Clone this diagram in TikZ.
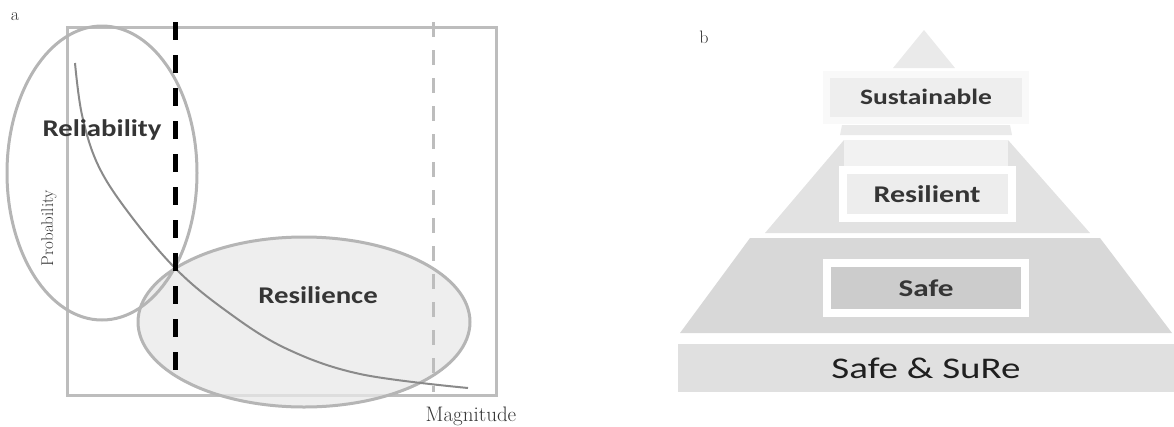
\documentclass[tikz,border=0pt]{standalone}
\usepackage{fontspec}
\usepackage{graphicx}
\newfontfamily\calfont{Carlito}
\usetikzlibrary{positioning}
\definecolor{framegray}{HTML}{BDBDBD}
\definecolor{ringgray}{HTML}{B5B5B5}
\definecolor{curvegray}{HTML}{8A8A8A}
\definecolor{darktext}{HTML}{353535}
\definecolor{tiptone}{HTML}{EAEAEA}
\definecolor{midtone}{HTML}{E2E2E2}
\definecolor{basetone}{HTML}{D8D8D8}
\definecolor{safetone}{HTML}{CCCCCC}
\definecolor{bartone}{HTML}{E0E0E0}
\newcommand{\widen}[2][1.2]{\scalebox{#1}[1]{#2}}
\tikzset{
  axisbox/.style={draw=framegray, line width=3pt},
  zone/.style={draw=ringgray, line width=3pt},
  tag/.style={font=\calfont\bfseries\fontsize{24}{24}\selectfont, text=darktext},
  panel/.style={font=\fontsize{18}{18}\selectfont, text=darktext},
  axislabel/.style={font=\fontsize{17}{17}\selectfont, text=darktext},
  levelbox/.style={draw=white, line width=8pt, inner sep=0pt}
}
\begin{document}
\begin{tikzpicture}[x=1pt, y=-1pt]
  \useasboundingbox (0,0) rectangle (1174,426);

  % panel a
  \node[panel] (lbla) at (15,17) {a};
  \draw[axisbox] (67,27) rectangle (496,395);
  \fill[gray!18, fill opacity=0.75] (304,322) ellipse [x radius=166, y radius=85];
  \draw[zone] (304,322) ellipse [x radius=166, y radius=85];
  \draw[zone] (102,173) ellipse [x radius=95, y radius=147];
  \draw[curvegray, line width=2pt] plot[smooth, tension=0.6] coordinates
    {(75,63) (82,115) (98,165) (128,212) (175,268) (225,310) (285,348) (360,374) (468,388)};
  \draw[black, line width=5pt, dash pattern=on 18pt off 15pt] (175,22) -- (175,378);
  \draw[framegray, line width=3pt, dash pattern=on 15pt off 13pt] (433,22) -- (433,392);
  \node[tag] (relab) at (102,130) {\widen{Reliability}};
  \node[tag] (reslab) at (318,295) {\widen{Resilience}};
  \node[axislabel, rotate=90] (problab) at (49,228) {Probability};
  \node[axislabel, font=\fontsize{21}{21}\selectfont] (maglab) at (471,416) {Magnitude};

  % panel b
  \node[panel] (lblb) at (704,37) {b};
  \fill[tiptone] (924,30) -- (955,68) -- (893,68) -- cycle;
  \fill[tiptone] (842,125) -- (1010,125) -- (1012,135) -- (840,135) -- cycle;
  \fill[midtone] (844,140) -- (1008,140) -- (1090,233) -- (765,233) -- cycle;
  \fill[gray!10] (844,140) rectangle (1008,166);
  \fill[basetone] (750,238) -- (1100,238) -- (1172,333) -- (680,333) -- cycle;

  \node[levelbox, draw=gray!5, line width=7pt, fill=gray!13, minimum width=199pt, minimum height=46pt,
    tag, font=\calfont\bfseries\fontsize{22}{22}\selectfont] (sust) at (926,97) {\widen[1.25]{Sustainable}};
  \node[levelbox, fill=gray!14, minimum width=169pt, minimum height=48pt, tag] (resil) at (927,194) {\widen[1.25]{Resilient}};
  \node[levelbox, fill=safetone, minimum width=198pt, minimum height=50pt, tag] (safe) at (926,288) {\widen[1.3]{Safe}};
  \node[fill=bartone, minimum width=497pt, minimum height=48pt, inner sep=0pt,
    font=\calfont\fontsize{30}{30}\selectfont, text=black!88] (sure) at (926,368) {\widen[1.3]{Safe \& SuRe}};
\end{tikzpicture}
\end{document}
